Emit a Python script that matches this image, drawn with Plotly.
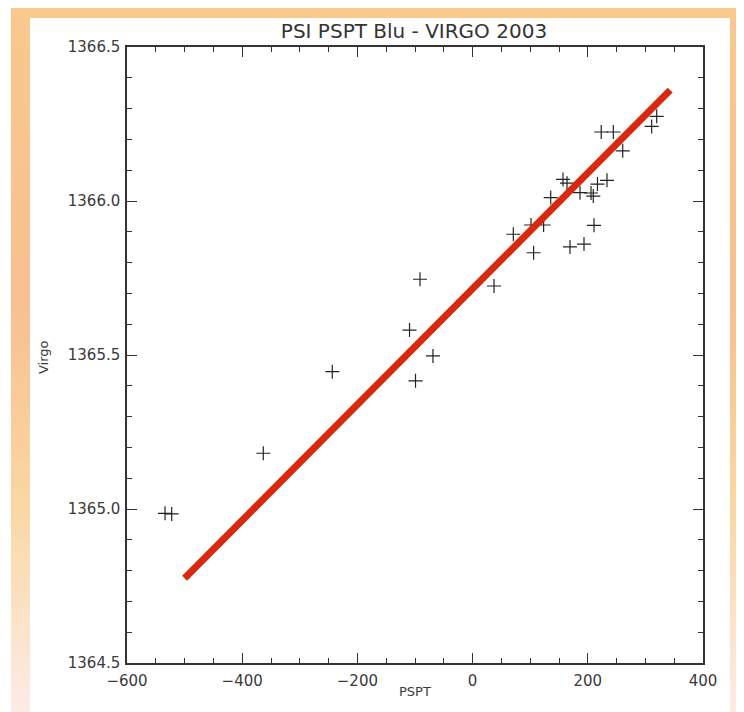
import plotly.graph_objects as go

# ---- data ----
pspt = [319.6, 310.9, 223.3, 244.3, 260.6, 156.9, 163.9, 216.8, 233.3, 186.5,
        205.6, 209.5, 135.6, 101.4, 123.3, 70.7, 210.8, 105.9, 169.1, 193.4,
        -91.3, 37.2, -109.5, -68.8, -99.1, -243.6, -363.4, -534.0, -522.4]
virgo = [1366.275, 1366.242, 1366.224, 1366.224, 1366.163, 1366.070, 1366.058,
         1366.055, 1366.067, 1366.027, 1366.026, 1366.016, 1366.011, 1365.922,
         1365.922, 1365.892, 1365.921, 1365.832, 1365.851, 1365.860, 1365.746,
         1365.724, 1365.581, 1365.497, 1365.416, 1365.446, 1365.181, 1364.986,
         1364.984]
fit_x = [-500.0, 343.0]
fit_y = [1364.775, 1366.360]

x_ticks = [-600, -400, -200, 0, 200, 400]
y_ticks = [1364.5, 1365.0, 1365.5, 1366.0, 1366.5]

# page has an 8px body margin: work in page pixels, convert to figure pixels
OFF = 8
W, H = 744 - OFF, 712 - OFF
L, R, T, B = 127 - OFF, 703 - OFF, 47 - OFF, 663 - OFF


def px(x):  # page pixel -> paper x
    return (x - OFF - L) / (R - L)


def py(y):  # page pixel -> paper y
    return (B - (y - OFF)) / (B - T)


def hex2rgb(h):
    h = h.lstrip('#')
    return [int(h[i:i + 2], 16) for i in (0, 2, 4)]


stops = [(0, '#f9c98e'), (300, '#f8bf90'), (500, '#fad7a2'), (712, '#fdebe6')]


def color_at(y):
    for (y0, c0), (y1, c1) in zip(stops[:-1], stops[1:]):
        if y0 <= y <= y1:
            t = (y - y0) / (y1 - y0)
            a, b = hex2rgb(c0), hex2rgb(c1)
            return 'rgb(%d,%d,%d)' % tuple(round(a[i] + (b[i] - a[i]) * t) for i in range(3))
    return stops[-1][1]


shapes = []
# top band
shapes.append(dict(type='rect', xref='paper', yref='paper', x0=px(11), x1=px(745),
                   y0=py(18), y1=py(OFF - 1), fillcolor='#f9c98e', line=dict(width=0),
                   layer='below'))
# side bands with vertical gradient
step = 10
for y in range(18, 712, step):
    c = color_at(y + step / 2)
    for xa, xb in ((11, 30), (730, 745)):
        shapes.append(dict(type='rect', xref='paper', yref='paper', x0=px(xa), x1=px(xb),
                           y0=py(min(y + step + 0.6, 713)), y1=py(y), fillcolor=c,
                           line=dict(width=0), layer='below'))

fig = go.Figure()
fig.add_trace(go.Scatter(x=pspt, y=virgo, mode='markers',
                         marker=dict(symbol='cross-thin', size=10, color='#222',
                                     line=dict(width=1.2, color='#222')),
                         showlegend=False))
fig.add_trace(go.Scatter(x=fit_x, y=fit_y, mode='lines',
                         line=dict(color='#d6290e', width=7), showlegend=False))

axis_common = dict(showline=True, linecolor='#333', linewidth=1.5, mirror='ticks',
                   ticks='inside', ticklen=10, tickwidth=1.2, tickcolor='#333',
                   showgrid=False, zeroline=False,
                   tickfont=dict(family='DejaVu Sans', size=15, color='#3a3a3a'))

fig.update_layout(
    width=W, height=H, autosize=False,
    margin=dict(l=L, r=W - R, t=T, b=H - B, pad=0),
    paper_bgcolor='white', plot_bgcolor='white',
    title=dict(text='PSI PSPT Blu - VIRGO 2003', x=(414 - OFF) / W, xanchor='center',
               y=1 - (31 - OFF) / H, yanchor='middle', xref='container', yref='container',
               font=dict(family='DejaVu Sans', size=20, color='#333')),
    xaxis=dict(range=[-600, 400], tickvals=x_ticks, ticklabelstandoff=3,
               minor=dict(dtick=50, tick0=0, ticks='inside', ticklen=5, tickwidth=1.2,
                          tickcolor='#333'),
               **axis_common),
    yaxis=dict(range=[1364.5, 1366.5], tickvals=y_ticks, tickformat='.1f',
               ticklabelstandoff=2,
               minor=dict(dtick=0.1, tick0=1364.5, ticks='inside', ticklen=5, tickwidth=1.2,
                          tickcolor='#333'),
               **axis_common),
    shapes=shapes,
    annotations=[
        dict(text='PSPT', xref='paper', yref='paper', x=px(415), y=py(691),
             showarrow=False, xanchor='center', yanchor='middle',
             font=dict(family='DejaVu Sans', size=13, color='#3a3a3a')),
        dict(text='Virgo', xref='paper', yref='paper', x=px(43), y=py(357),
             showarrow=False, xanchor='center', yanchor='middle', textangle=-90,
             font=dict(family='DejaVu Sans', size=13, color='#3a3a3a')),
    ],
)

fig.write_html('out.html')
